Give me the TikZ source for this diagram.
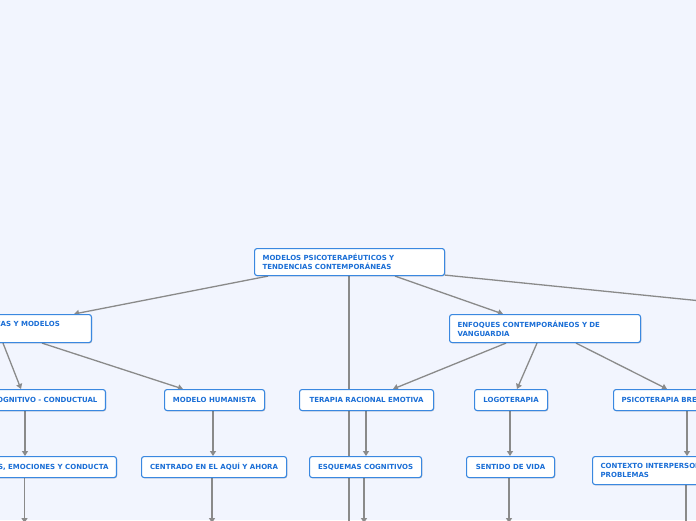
\documentclass[tikz,border=0pt]{standalone}
\usepackage{fontspec}
\newfontfamily\boxfont{DejaVu Sans}
\usetikzlibrary{arrows.meta,shadows,backgrounds}
\definecolor{bg}{HTML}{F2F5FE}
\definecolor{bd}{HTML}{3A88E0}
\definecolor{tx}{HTML}{1A6ED6}
\definecolor{ln}{HTML}{8A8A8A}
\begin{document}
\begin{tikzpicture}[x=1pt,y=-1pt,
  box/.style={draw=bd, line width=1.1pt, fill=white, rounded corners=2.5pt, text=tx,
    font=\boxfont\bfseries\fontsize{7}{9}\selectfont, inner xsep=8pt, inner ysep=0pt,
    drop shadow={shadow xshift=0.7pt, shadow yshift=-0.8pt, opacity=0.22, fill=black}},
  txt/.style={text=tx, font=\boxfont\bfseries\fontsize{7}{9}\selectfont, inner sep=0pt},
  conn/.style={draw=ln, line width=1.3pt, -{Triangle[width=6pt,length=5pt]}},
  plain/.style={draw=ln, line width=1.3pt}]
\useasboundingbox (0,0) rectangle (696,520);
% level 0
\node[box, anchor=north west, text width=174pt, align=left, minimum height=27pt] (root) at (254,248)
  {MODELOS PSICOTERAPÉUTICOS Y\\TENDENCIAS CONTEMPORÁNEAS};
% level 1
\node[box, anchor=north east, minimum width=202pt, minimum height=28pt] (L1) at (92,314) {};
\node[txt, anchor=base east] (L1t) at (60,326) {CLÁSICAS Y MODELOS};
\node[box, anchor=north west, text width=175pt, align=left, minimum height=28pt] (enf) at (449,314)
  {ENFOQUES CONTEMPORÁNEOS Y DE\\VANGUARDIA};
% level 2
\node[box, anchor=north east, minimum height=21pt] (cog) at (106,389) {MODELO COGNITIVO - CONDUCTUAL};
\node[box, anchor=north west, minimum width=100pt, minimum height=21pt] (hum) at (164,389) {MODELO HUMANISTA};
\node[box, anchor=north west, minimum width=134pt, minimum height=21pt] (tre) at (299,389) {TERAPIA RACIONAL EMOTIVA};
\node[box, anchor=north west, minimum width=73pt, minimum height=21pt] (logo) at (474,389) {LOGOTERAPIA};
\node[box, anchor=north west, minimum height=21pt] (psi) at (613,389) {PSICOTERAPIA BREVE};
% level 3
\node[box, anchor=north east, minimum height=21pt] (pec) at (117,456) {PENSAMIENTOS, EMOCIONES Y CONDUCTA};
\node[box, anchor=north west, minimum width=145pt, minimum height=21pt] (cen) at (141,456) {CENTRADO EN EL AQUÍ Y AHORA};
\node[box, anchor=north west, minimum width=112pt, minimum height=21pt] (esq) at (309,456) {ESQUEMAS COGNITIVOS};
\node[box, anchor=north west, minimum width=88pt, minimum height=21pt] (sen) at (466,456) {SENTIDO DE VIDA};
\node[box, anchor=north west, text width=160pt, align=left, minimum height=28pt] (ctx) at (592,456)
  {CONTEXTO INTERPERSONAL DE LOS\\PROBLEMAS};
% off-screen ends
\coordinate (offB) at (349,560);
\coordinate (offR) at (850,316);
\coordinate (b1) at (24.5,523);
\coordinate (b2) at (212,523);
\coordinate (b3) at (364,523);
\coordinate (b4) at (509,523);
\coordinate (b5) at (686,534);
\begin{scope}[on background layer]
  \fill[bg] (0,0) rectangle (696,520);
  \draw[conn] ([xshift=14pt]root.south west) -- ([xshift=-18pt]L1.north east);
  \draw[conn] ([xshift=95pt]root.south west) -- (offB);
  \draw[conn] ([xshift=141pt]root.south west) -- ([xshift=54pt]enf.north west);
  \draw[conn] ([yshift=1pt]root.south east) -- (offR);
  \draw[conn] ([xshift=-89pt]L1.south east) -- ([xshift=-85pt]cog.north east);
  \draw[conn] ([xshift=-50pt]L1.south east) -- ([xshift=19pt]hum.north west);
  \draw[conn] ([xshift=57pt]enf.south west) -- ([xshift=94pt]tre.north west);
  \draw[conn] ([xshift=88pt]enf.south west) -- ([xshift=43pt]logo.north west);
  \draw[conn] ([xshift=127pt]enf.south west) -- ([xshift=54pt]psi.north west);
  \draw[conn] ([xshift=-81pt]cog.south east) -- ([xshift=-92pt]pec.north east);
  \draw[conn] ([xshift=49pt]hum.south west) -- ([xshift=72pt]cen.north west);
  \draw[conn] ([xshift=67pt]tre.south west) -- ([xshift=57pt]esq.north west);
  \draw[conn] ([xshift=36pt]logo.south west) -- ([xshift=44pt]sen.north west);
  \draw[conn] ([xshift=74pt]psi.south west) -- ([xshift=95pt]ctx.north west);
  \draw[conn] ([xshift=-92.5pt]pec.south east) -- (b1);
  \draw[conn] ([xshift=71pt]cen.south west) -- (b2);
  \draw[conn] ([xshift=55pt]esq.south west) -- (b3);
  \draw[conn] ([xshift=43pt]sen.south west) -- (b4);
  \draw[conn] ([xshift=94pt]ctx.south west) -- (b5);
\end{scope}
\end{tikzpicture}
\end{document}
